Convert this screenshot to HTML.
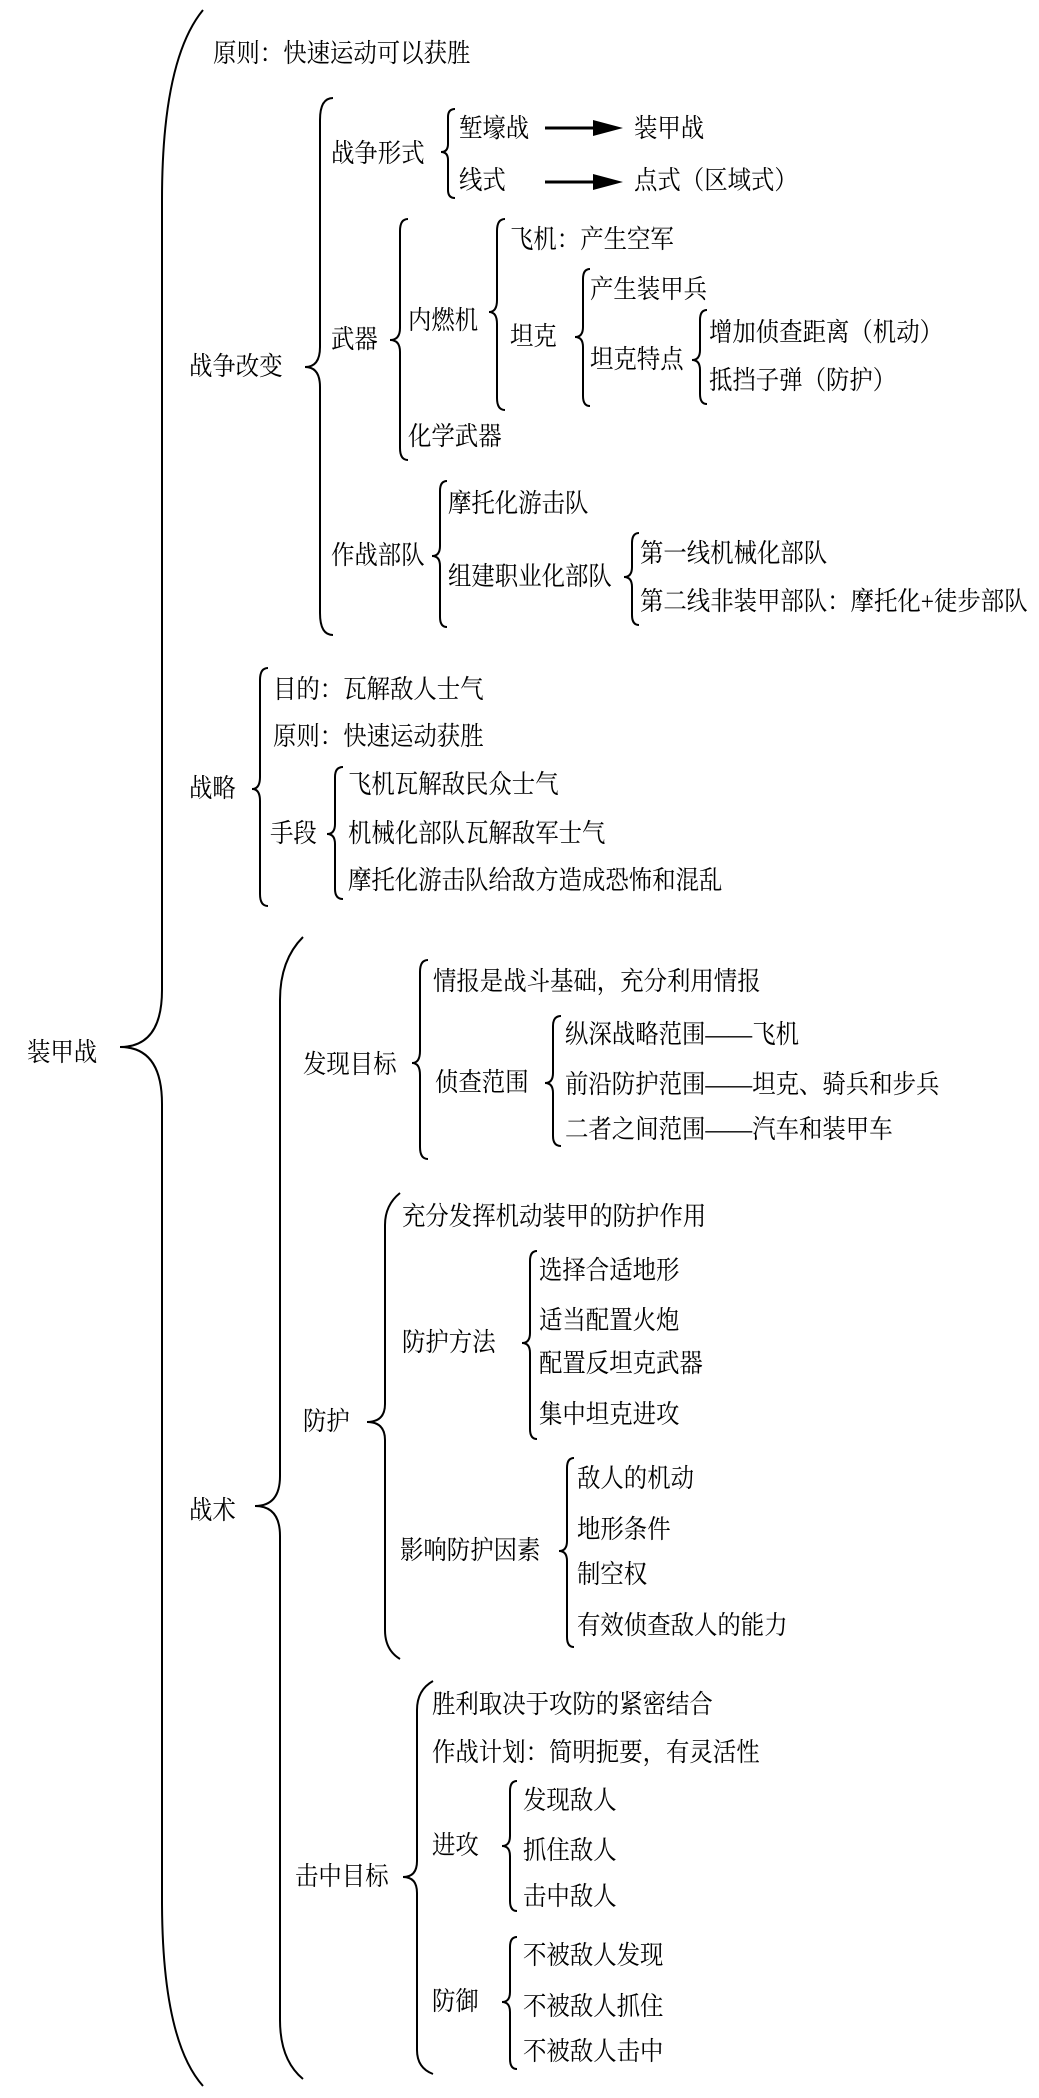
<!DOCTYPE html>
<html><head><meta charset="utf-8"><style>
html,body{margin:0;padding:0;background:#fff;}
body{width:1039px;height:2098px;position:relative;overflow:hidden;}
.t{position:absolute;font-family:"Liberation Serif","Noto Serif CJK SC","Noto Sans CJK SC",serif;font-size:26px;line-height:28px;white-space:nowrap;color:#000;transform:scaleX(0.9);transform-origin:left center;}
svg{position:absolute;left:0;top:0;}
</style></head><body>
<svg width="1039" height="2098" viewBox="0 0 1039 2098">
<g fill="none" stroke="#000" stroke-width="2">
<path d="M203,10 Q162,60 162,200 L162,990 Q162,1047 120,1047 Q162,1047 162,1104 L162,1900 Q162,2040 203,2086"/>
<path d="M333,98 Q320,98 320,120 L320,347 Q320,367 305,367 Q320,367 320,387 L320,613 Q320,635 333,635"/>
<path d="M455,109 Q448,109 448,117 L448,144 Q448,152 441,152 Q448,152 448,160 L448,190 Q448,198 455,198"/>
<path d="M408,219 Q400,219 400,231 L400,328 Q400,340 390,340 Q400,340 400,352 L400,448 Q400,460 408,460"/>
<path d="M505,219 Q497,219 497,231 L497,300 Q497,312 489,312 Q497,312 497,324 L497,398 Q497,410 505,410"/>
<path d="M590,269 Q583,269 583,279 L583,327 Q583,337 575,337 Q583,337 583,347 L583,396 Q583,406 590,406"/>
<path d="M707,310 Q700,310 700,320 L700,350 Q700,360 692,360 Q700,360 700,370 L700,394 Q700,404 707,404"/>
<path d="M447,481 Q440,481 440,491 L440,546 Q440,556 432,556 Q440,556 440,566 L440,617 Q440,627 447,627"/>
<path d="M639,533 Q632,533 632,543 L632,567 Q632,577 624,577 Q632,577 632,587 L632,615 Q632,625 639,625"/>
<path d="M268,668 Q260,668 260,680 L260,777 Q260,789 252,789 Q260,789 260,801 L260,894 Q260,906 268,906"/>
<path d="M343,767 Q335,767 335,777 L335,824 Q335,834 327,834 Q335,834 335,844 L335,889 Q335,899 343,899"/>
<path d="M303,937 Q280,960 280,1000 L280,1476 Q280,1506 255,1506 Q280,1506 280,1536 L280,2020 Q280,2060 303,2079"/>
<path d="M428,960 Q420,960 420,972 L420,1051 Q420,1063 412,1063 Q420,1063 420,1075 L420,1147 Q420,1159 428,1159"/>
<path d="M561,1016 Q553,1016 553,1026 L553,1073 Q553,1083 545,1083 Q553,1083 553,1093 L553,1136 Q553,1146 561,1146"/>
<path d="M400,1193 Q385,1205 385,1225 L385,1404 Q385,1422 367,1422 Q385,1422 385,1440 L385,1630 Q385,1650 400,1659"/>
<path d="M537,1251 Q530,1251 530,1261 L530,1333 Q530,1343 522,1343 Q530,1343 530,1353 L530,1429 Q530,1439 537,1439"/>
<path d="M574,1458 Q567,1458 567,1468 L567,1541 Q567,1551 559,1551 Q567,1551 567,1561 L567,1637 Q567,1647 574,1647"/>
<path d="M433,1681 Q417,1690 417,1710 L417,1861 Q417,1877 403,1877 Q417,1877 417,1893 L417,2050 Q417,2068 433,2074"/>
<path d="M517,1781 Q510,1781 510,1791 L510,1836 Q510,1846 502,1846 Q510,1846 510,1856 L510,1901 Q510,1911 517,1911"/>
<path d="M517,1937 Q510,1937 510,1947 L510,1992 Q510,2002 502,2002 Q510,2002 510,2012 L510,2059 Q510,2069 517,2069"/>
<line x1="545" y1="128" x2="598" y2="128" stroke-width="3"/>
<line x1="545" y1="182" x2="598" y2="182" stroke-width="3"/>
</g>
<polygon points="593,120 623,128 593,136" fill="#000"/>
<polygon points="593,174 623,182 593,190" fill="#000"/>
</svg>
<div class="t" style="left:27px;top:1039px">装甲战</div>
<div class="t" style="left:213px;top:40px">原则：快速运动可以获胜</div>
<div class="t" style="left:189px;top:353px">战争改变</div>
<div class="t" style="left:331px;top:140px">战争形式</div>
<div class="t" style="left:459px;top:115px">堑壕战</div>
<div class="t" style="left:634px;top:115px">装甲战</div>
<div class="t" style="left:459px;top:167px">线式</div>
<div class="t" style="left:634px;top:167px">点式（区域式）</div>
<div class="t" style="left:331px;top:326px">武器</div>
<div class="t" style="left:408px;top:307px">内燃机</div>
<div class="t" style="left:510px;top:226px">飞机：产生空军</div>
<div class="t" style="left:510px;top:323px">坦克</div>
<div class="t" style="left:590px;top:276px">产生装甲兵</div>
<div class="t" style="left:590px;top:346px">坦克特点</div>
<div class="t" style="left:709px;top:319px">增加侦查距离（机动）</div>
<div class="t" style="left:709px;top:367px">抵挡子弹（防护）</div>
<div class="t" style="left:408px;top:423px">化学武器</div>
<div class="t" style="left:331px;top:542px">作战部队</div>
<div class="t" style="left:448px;top:490px">摩托化游击队</div>
<div class="t" style="left:448px;top:563px">组建职业化部队</div>
<div class="t" style="left:640px;top:540px">第一线机械化部队</div>
<div class="t" style="left:640px;top:588px">第二线非装甲部队：摩托化+徒步部队</div>
<div class="t" style="left:189px;top:775px">战略</div>
<div class="t" style="left:273px;top:676px">目的：瓦解敌人士气</div>
<div class="t" style="left:273px;top:723px">原则：快速运动获胜</div>
<div class="t" style="left:270px;top:820px">手段</div>
<div class="t" style="left:348px;top:771px">飞机瓦解敌民众士气</div>
<div class="t" style="left:348px;top:820px">机械化部队瓦解敌军士气</div>
<div class="t" style="left:348px;top:867px">摩托化游击队给敌方造成恐怖和混乱</div>
<div class="t" style="left:189px;top:1497px">战术</div>
<div class="t" style="left:303px;top:1051px">发现目标</div>
<div class="t" style="left:433px;top:968px">情报是战斗基础，充分利用情报</div>
<div class="t" style="left:435px;top:1069px">侦查范围</div>
<div class="t" style="left:565px;top:1021px">纵深战略范围——飞机</div>
<div class="t" style="left:565px;top:1071px">前沿防护范围——坦克、骑兵和步兵</div>
<div class="t" style="left:565px;top:1116px">二者之间范围——汽车和装甲车</div>
<div class="t" style="left:303px;top:1408px">防护</div>
<div class="t" style="left:402px;top:1203px">充分发挥机动装甲的防护作用</div>
<div class="t" style="left:402px;top:1329px">防护方法</div>
<div class="t" style="left:539px;top:1257px">选择合适地形</div>
<div class="t" style="left:539px;top:1307px">适当配置火炮</div>
<div class="t" style="left:539px;top:1350px">配置反坦克武器</div>
<div class="t" style="left:539px;top:1401px">集中坦克进攻</div>
<div class="t" style="left:400px;top:1537px">影响防护因素</div>
<div class="t" style="left:577px;top:1465px">敌人的机动</div>
<div class="t" style="left:577px;top:1516px">地形条件</div>
<div class="t" style="left:577px;top:1561px">制空权</div>
<div class="t" style="left:577px;top:1612px">有效侦查敌人的能力</div>
<div class="t" style="left:295px;top:1863px">击中目标</div>
<div class="t" style="left:432px;top:1691px">胜利取决于攻防的紧密结合</div>
<div class="t" style="left:432px;top:1739px">作战计划：简明扼要，有灵活性</div>
<div class="t" style="left:432px;top:1832px">进攻</div>
<div class="t" style="left:523px;top:1787px">发现敌人</div>
<div class="t" style="left:523px;top:1837px">抓住敌人</div>
<div class="t" style="left:523px;top:1883px">击中敌人</div>
<div class="t" style="left:432px;top:1988px">防御</div>
<div class="t" style="left:523px;top:1942px">不被敌人发现</div>
<div class="t" style="left:523px;top:1993px">不被敌人抓住</div>
<div class="t" style="left:523px;top:2038px">不被敌人击中</div>
</body></html>
